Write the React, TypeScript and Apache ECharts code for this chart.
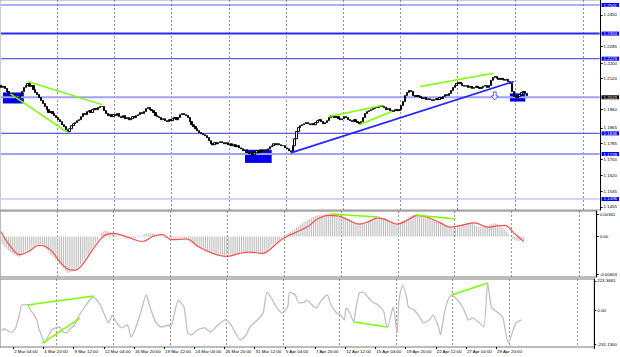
import React, { useEffect, useRef } from "react";
import * as echarts from "echarts";

const TOTAL_BARS = 315;
const firstOpen = 1.2085;

const closes = [
  1.2074,1.2080,1.2069,1.2053,1.2043,1.2032,1.2037,1.2027,1.2016,1.2022,
  1.2032,1.2053,1.2074,1.2084,1.2095,1.2080,1.2084,1.2063,1.2048,1.2037,
  1.2022,1.2006,1.1991,1.1975,1.1959,1.1944,1.1949,1.1939,1.1928,1.1918,
  1.1907,1.1897,1.1881,1.1871,1.1855,1.1845,1.1860,1.1876,1.1886,1.1892,
  1.1902,1.1907,1.1923,1.1939,1.1933,1.1949,1.1954,1.1944,1.1959,1.1965,
  1.1959,1.1970,1.1975,1.1975,1.1954,1.1939,1.1928,1.1933,1.1923,1.1933,
  1.1928,1.1939,1.1923,1.1918,1.1928,1.1912,1.1918,1.1907,1.1912,1.1923,
  1.1918,1.1928,1.1933,1.1944,1.1939,1.1949,1.1965,1.1970,1.1959,1.1954,
  1.1944,1.1928,1.1923,1.1918,1.1907,1.1912,1.1902,1.1897,1.1907,1.1902,
  1.1912,1.1918,1.1907,1.1918,1.1933,1.1939,1.1933,1.1928,1.1918,1.1897,
  1.1881,1.1871,1.1860,1.1850,1.1840,1.1834,1.1829,1.1824,1.1814,1.1798,
  1.1782,1.1777,1.1788,1.1782,1.1788,1.1793,1.1788,1.1782,1.1788,1.1777,
  1.1782,1.1772,1.1777,1.1767,1.1772,1.1761,1.1756,1.1746,1.1751,1.1735,
  1.1730,1.1741,1.1725,1.1735,1.1746,1.1735,1.1751,1.1741,1.1751,1.1746,
  1.1756,1.1767,1.1772,1.1782,1.1777,1.1782,1.1777,1.1772,1.1772,1.1761,
  1.1756,1.1746,1.1741,1.1772,1.1808,1.1845,1.1866,1.1876,1.1881,1.1886,
  1.1892,1.1886,1.1881,1.1886,1.1881,1.1892,1.1902,1.1907,1.1897,1.1886,
  1.1892,1.1902,1.1918,1.1928,1.1923,1.1918,1.1923,1.1912,1.1907,1.1912,
  1.1923,1.1918,1.1907,1.1902,1.1897,1.1907,1.1897,1.1892,1.1886,1.1897,
  1.1918,1.1939,1.1949,1.1954,1.1959,1.1965,1.1970,1.1970,1.1975,1.1980,
  1.1975,1.1970,1.1959,1.1965,1.1954,1.1949,1.1954,1.1959,1.1954,1.1959,
  1.1980,1.2001,1.2032,1.2048,1.2058,1.2053,1.2032,1.2027,1.2032,1.2027,
  1.2022,1.2016,1.2022,1.2011,1.2016,1.2011,1.2006,1.2011,1.2016,1.2011,
  1.2022,1.2016,1.2027,1.2037,1.2032,1.2043,1.2058,1.2074,1.2084,1.2095,
  1.2100,1.2095,1.2084,1.2080,1.2084,1.2074,1.2080,1.2069,1.2074,1.2080,
  1.2074,1.2069,1.2074,1.2080,1.2084,1.2074,1.2084,1.2111,1.2126,1.2131,
  1.2121,1.2116,1.2121,1.2116,1.2111,1.2116,1.2105,1.2095,1.2053,1.2027,
  1.2022,1.2027,1.2037,1.2048,1.2053,1.2043,1.2032
];

const macdMain = [
  -0.0010,-0.0013,-0.0017,-0.0020,-0.0023,-0.0025,-0.0027,-0.0029,-0.0031,-0.0032,
  -0.0032,-0.0029,-0.0026,-0.0023,-0.0021,-0.0020,-0.0018,-0.0016,-0.0014,-0.0013,
  -0.0013,-0.0013,-0.0015,-0.0017,-0.0021,-0.0024,-0.0028,-0.0031,-0.0034,-0.0038,
  -0.0041,-0.0044,-0.0048,-0.0051,-0.0055,-0.0058,-0.0058,-0.0057,-0.0056,-0.0055,
  -0.0053,-0.0049,-0.0045,-0.0040,-0.0036,-0.0032,-0.0029,-0.0026,-0.0021,-0.0016,
  -0.0011,-0.0006,0.0000,0.0006,0.0008,0.0010,0.0009,0.0008,0.0007,0.0005,
  0.0004,0.0002,0.0001,0.0000,-0.0001,-0.0003,-0.0004,-0.0004,-0.0004,-0.0004,
  -0.0003,-0.0003,-0.0002,-0.0001,0.0000,0.0002,0.0004,0.0005,0.0005,0.0005,
  0.0005,0.0004,0.0003,0.0001,0.0000,-0.0001,-0.0002,-0.0002,-0.0002,-0.0003,
  -0.0003,-0.0003,-0.0003,-0.0002,-0.0002,-0.0002,-0.0003,-0.0004,-0.0005,-0.0006,
  -0.0008,-0.0010,-0.0011,-0.0013,-0.0015,-0.0017,-0.0018,-0.0019,-0.0021,-0.0024,
  -0.0026,-0.0028,-0.0029,-0.0030,-0.0031,-0.0031,-0.0031,-0.0031,-0.0030,-0.0030,
  -0.0030,-0.0029,-0.0029,-0.0028,-0.0027,-0.0027,-0.0026,-0.0026,-0.0025,-0.0025,
  -0.0025,-0.0024,-0.0025,-0.0025,-0.0026,-0.0026,-0.0027,-0.0027,-0.0026,-0.0025,
  -0.0024,-0.0021,-0.0018,-0.0014,-0.0012,-0.0010,-0.0008,-0.0006,-0.0003,0.0000,
  0.0002,0.0004,0.0006,0.0008,0.0010,0.0012,0.0015,0.0017,0.0019,0.0021,
  0.0023,0.0025,0.0027,0.0028,0.0030,0.0031,0.0033,0.0034,0.0034,0.0035,
  0.0035,0.0036,0.0036,0.0036,0.0036,0.0036,0.0035,0.0035,0.0035,0.0034,
  0.0033,0.0032,0.0031,0.0029,0.0028,0.0026,0.0025,0.0023,0.0022,0.0021,
  0.0021,0.0020,0.0021,0.0022,0.0024,0.0026,0.0027,0.0028,0.0029,0.0030,
  0.0030,0.0029,0.0028,0.0027,0.0025,0.0024,0.0022,0.0021,0.0019,0.0018,
  0.0019,0.0021,0.0024,0.0026,0.0029,0.0031,0.0033,0.0034,0.0035,0.0035,
  0.0035,0.0034,0.0033,0.0031,0.0030,0.0029,0.0028,0.0027,0.0026,0.0025,
  0.0024,0.0023,0.0022,0.0021,0.0020,0.0019,0.0017,0.0015,0.0014,0.0013,
  0.0014,0.0016,0.0017,0.0019,0.0020,0.0020,0.0021,0.0021,0.0021,0.0020,
  0.0019,0.0017,0.0016,0.0016,0.0015,0.0015,0.0015,0.0017,0.0019,0.0020,
  0.0021,0.0021,0.0020,0.0019,0.0017,0.0014,0.0011,0.0008,0.0004,0.0000,
  -0.0003,-0.0005,-0.0006,-0.0007,-0.0007,-0.0006,-0.0005
];

// [bar index, value]
const macdSignal = [
  [0,0.0008],[5,-0.0016],[10,-0.0029],[15,-0.0023],[20,-0.0014],[26,-0.0021],[31,-0.0040],
  [36,-0.0053],[39,-0.0054],[43,-0.0045],[48,-0.0023],[54,0.0000],[59,0.0005],[66,0.0000],
  [75,-0.0008],[80,0.0000],[85,0.0003],[90,-0.0005],[98,-0.0004],[104,-0.0016],[111,-0.0026],
  [119,-0.0032],[126,-0.0027],[131,-0.0025],[138,-0.0027],[143,-0.0018],[148,-0.0005],
  [153,0.0003],[162,0.0016],[167,0.0028],[173,0.0034],[178,0.0033],[183,0.0027],[189,0.0020],
  [194,0.0024],[199,0.0030],[204,0.0026],[209,0.0020],[215,0.0027],[220,0.0034],[225,0.0031],
  [232,0.0022],[237,0.0015],[243,0.0018],[250,0.0022],[257,0.0015],[262,0.0017],[266,0.0018],
  [271,0.0005],[276,-0.0008]
];

const cci = [
  [0,-146],[2,-138],[5,-161],[6,-161],[8,-123],[10,-18],[11,43],[14,43],[16,-3],[17,-18],
  [19,-70],[20,-130],[22,-206],[23,-244],[24,-221],[26,-168],[27,-146],[29,-130],[31,-123],
  [33,-161],[35,-168],[36,-146],[39,-108],[41,-48],[44,20],[47,80],[49,103],[52,58],[55,-33],
  [57,-93],[59,-33],[61,-85],[64,-130],[67,-108],[69,-198],[71,-146],[74,-18],[77,118],[79,28],
  [82,-85],[85,-123],[89,-108],[90,-123],[94,80],[97,28],[99,-168],[101,-183],[104,-146],
  [108,-130],[111,-161],[115,-108],[119,-70],[122,-108],[124,-161],[127,-221],[130,-183],
  [132,-123],[136,-70],[139,-18],[141,140],[144,80],[146,28],[149,-18],[152,28],[153,140],
  [156,118],[158,58],[161,65],[162,80],[165,43],[167,20],[170,80],[173,118],[175,43],[178,-18],
  [180,-33],[182,-70],[183,20],[185,-18],[187,-85],[188,5],[190,133],[192,140],[195,95],
  [197,65],[200,43],[203,-10],[204,-93],[205,-123],[207,-18],[208,28],[210,-168],[211,80],
  [213,193],[215,103],[216,28],[219,5],[222,-48],[224,-93],[227,-70],[229,-33],[232,-123],
  [233,-183],[235,-18],[237,80],[239,118],[242,80],[245,20],[248,-70],[250,-55],[253,-85],
  [256,-123],[258,208],[260,28],[263,-10],[266,-48],[267,-123],[269,-244],[271,-168],
  [273,-93],[276,-70]
];

const priceTicks = [1.245, 1.2285, 1.22, 1.212, 1.196, 1.1865, 1.1785, 1.17, 1.162, 1.1535, 1.1455];
const blueLevels = [1.2501, 1.2353, 1.2223, 1.1836];
const fibLevels = [1.2353, 1.2023, 1.1729, 1.1496];
const fibNames = ["200.0", "161.8", "127.2", "100.0"];
const bidPrice = 1.2023;
const macdTicks = [0.00361, 0, -0.00603];
const macdTickLabels = ["0.00361", "0.00", "-0.00603"];
const cciTicks = [223.3661, 0, -251.13];
const cciTickLabels = ["223.3661", "0.00", "-251.1300"];

const xLabels = [
  "2 Mar 04:00","4 Mar 20:00","9 Mar 12:00","12 Mar 04:00","16 Mar 20:00","19 Mar 12:00",
  "24 Mar 04:00","26 Mar 20:00","31 Mar 12:00","5 Apr 04:00","7 Apr 20:00","12 Apr 12:00",
  "15 Apr 04:00","19 Apr 20:00","22 Apr 12:00","27 Apr 04:00","29 Apr 20:00"
];
const separators = [
  "8 Mar 00:00","15 Mar 00:00","22 Mar 00:00","29 Mar 00:00","5 Apr 00:00","12 Apr 00:00",
  "19 Apr 00:00","26 Apr 00:00","3 May 00:00","11 May 00:00"
];

// price annotations: [[startIdx, startPrice], [endIdx, endPrice]]
const greenPriceLines = [
  [[14, 1.2105], [53, 1.1985]],
  [[5, 1.2041], [35, 1.1840]],
  [[172, 1.1923], [200, 1.1980]],
  [[188, 1.1881], [205, 1.1949]],
  [[220, 1.2079], [258, 1.2147]]
];
const blueTrend = [[152, 1.1735], [269, 1.2105]];
const boxes = [
  [[1, 1.2048], [12, 1.1991]],
  [[128, 1.1751], [142, 1.1683]],
  [[267, 1.2043], [275, 1.2001]]
];
const arrowAt = [259, 1.2030];
const greenMacdLines = [
  [[174, 0.00361], [199, 0.00313]],
  [[219, 0.00345], [240, 0.00282]]
];
const greenCciLines = [
  [[14, 43], [49, 110]],
  [[22, -244], [42, -55]],
  [[187, -85], [205, -123]],
  [[239, 118], [258, 208]]
];

const MONTHS = ["Jan","Feb","Mar","Apr","May","Jun","Jul","Aug","Sep","Oct","Nov","Dec"];
function buildCategories(n: number): string[] {
  const out: string[] = [];
  const start = Date.UTC(2021, 2, 1);
  let d = 0;
  while (out.length < n) {
    const date = new Date(start + d * 86400000);
    const wd = date.getUTCDay();
    if (wd !== 0 && wd !== 6) {
      for (let h = 0; h < 24; h += 4) {
        out.push(`${date.getUTCDate()} ${MONTHS[date.getUTCMonth()]} ${String(h).padStart(2, "0")}:00`);
      }
    }
    d++;
  }
  return out.slice(0, n);
}

const FONT = "Liberation Sans";
const FS = 4.4;

export default function App() {
  const ref = useRef<HTMLDivElement>(null);
  useEffect(() => {
    document.body.style.margin = "0";
    const chart = echarts.init(ref.current!, null, { renderer: "svg" });
    const cats = buildCategories(TOTAL_BARS);
    const candles = closes.map((c, i) => {
      const o = i === 0 ? firstOpen : closes[i - 1];
      return [o, c, Math.min(o, c), Math.max(o, c)];
    });
    const sepFn = (_i: number, v: string) => separators.includes(v);
    const labFn = (_i: number, v: string) => xLabels.includes(v);
    const xBase = (gridIndex: number, showLabels: boolean) => ({
      type: "category",
      gridIndex,
      data: cats,
      boundaryGap: true,
      axisLine: { show: false, onZero: false },
      axisTick: showLabels
        ? { show: true, interval: labFn, length: 2, lineStyle: { color: "#000" } }
        : { show: false },
      axisLabel: showLabels
        ? { show: true, interval: labFn, align: "left", fontSize: FS, fontFamily: FONT, color: "#000", margin: 2 }
        : { show: false },
      splitLine: { show: true, interval: sepFn, lineStyle: { color: "#777", width: 0.8, type: [2, 2] } },
    });
    const yLabel = { fontSize: FS, fontFamily: FONT, color: "#000", margin: 3 };

    const levelStyle: Record<string, [string, number, string]> = {
      "1.2501": ["#5c5cff", 1.2, "#0000ff"],
      "1.2353": ["#2a2aff", 2, "#0000ff"],
      "1.2223": ["#5c5cff", 1.2, "#0000ff"],
      "1.1836": ["#5c5cff", 1.2, "#0000ff"],
      "1.2023": ["#a0a0ff", 2, "#000000"],
      "1.1729": ["#a0a0ff", 2, "#0000ff"],
      "1.1496": ["#a8a8ff", 1, "#0000ff"],
    };
    const levelValues = [...blueLevels, bidPrice, 1.1729, 1.1496];
    const levelSeries = levelValues.map((v) => {
      const s = levelStyle[v.toFixed(4)];
      return {
        type: "line",
        xAxisIndex: 0,
        yAxisIndex: 0,
        data: [[0, v], [TOTAL_BARS - 1, v]],
        symbol: "none",
        silent: true,
        z: 3,
        lineStyle: { color: s[0], width: s[1] },
        endLabel: {
          show: true,
          formatter: v.toFixed(4),
          distance: 2,
          backgroundColor: s[2],
          color: "#ffffff",
          fontSize: FS,
          fontFamily: FONT,
          padding: [0, 2, 0, 2],
        },
      };
    });

    const fibMarks = fibLevels.map((v, k) => ({
      yAxis: v,
      lineStyle: { opacity: 0 },
      label: {
        show: true,
        position: "insideEndTop",
        distance: 1,
        formatter: fibNames[k],
        color: "#7f7fff",
        fontSize: FS,
        fontFamily: FONT,
      },
    }));

    const seg = (pts: any, color: string, xi: number, yi: number, width = 1.5) => ({
      type: "line",
      xAxisIndex: xi,
      yAxisIndex: yi,
      data: pts,
      symbol: "none",
      silent: true,
      lineStyle: { color, width },
      z: 5,
    });

    const series: any[] = [
      ...levelSeries,
      {
        type: "candlestick",
        xAxisIndex: 0,
        yAxisIndex: 0,
        data: candles,
        barWidth: 1.8,
        itemStyle: { color: "#ffffff", color0: "#000000", borderColor: "#000000", borderColor0: "#000000", borderWidth: 1 },
        z: 4,
        markLine: { symbol: "none", silent: true, precision: 4, data: fibMarks },
        markArea: {
          silent: true,
          itemStyle: { color: "#0000ee" },
          data: boxes.map((b) => [{ coord: b[0] }, { coord: b[1] }]),
        },
        markPoint: {
          silent: true,
          data: [
            {
              coord: arrowAt,
              symbol: "path://M3,0L7,0L7,5L10,5L5,10L0,5L3,5Z",
              symbolSize: [7, 8],
              itemStyle: { color: "#ffffff", borderColor: "#3535ff", borderWidth: 0.8 },
              label: { show: false },
            },
          ],
        },
      },
      ...greenPriceLines.map((p) => seg(p, "#7cfc00", 0, 0)),
      seg(blueTrend, "#2424ff", 0, 0, 1.6),
      {
        type: "bar",
        xAxisIndex: 1,
        yAxisIndex: 1,
        data: macdMain,
        barWidth: 1,
        itemStyle: { color: "#bdbdbd" },
        silent: true,
      },
      {
        type: "line",
        xAxisIndex: 1,
        yAxisIndex: 1,
        data: macdSignal,
        symbol: "none",
        smooth: 0.4,
        silent: true,
        lineStyle: { color: "#ff4a4a", width: 1.2 },
        z: 4,
      },
      ...greenMacdLines.map((p) => seg(p, "#7cfc00", 1, 1)),
      {
        type: "line",
        xAxisIndex: 2,
        yAxisIndex: 2,
        data: cci,
        symbol: "none",
        smooth: 0.2,
        silent: true,
        lineStyle: { color: "#c0c0c0", width: 1.3 },
      },
      ...greenCciLines.map((p) => seg(p, "#7cfc00", 2, 2)),
    ];

    chart.setOption({
      animation: false,
      backgroundColor: "#ffffff",
      textStyle: { fontFamily: FONT },
      grid: [
        { left: 0, top: 0, width: 601, height: 210, show: true, borderColor: "#9a9a9a", borderWidth: 1 },
        { left: 0, top: 211, width: 601, height: 66, show: true, borderColor: "#7a7a7a", borderWidth: 1 },
        { left: 0, top: 279, width: 601, height: 68, show: true, borderColor: "#7a7a7a", borderWidth: 1 },
      ],
      xAxis: [xBase(0, false), xBase(1, false), xBase(2, true)],
      yAxis: [
        {
          type: "value",
          gridIndex: 0,
          position: "right",
          min: 1.1439,
          max: 1.2527,
          axisLine: { show: true, lineStyle: { color: "#000" } },
          axisTick: { show: true, customValues: priceTicks, length: 2, lineStyle: { color: "#000" } },
          axisLabel: { ...yLabel, customValues: priceTicks, formatter: (v: number) => v.toFixed(4) },
          splitLine: { show: false },
        },
        {
          type: "value",
          gridIndex: 1,
          position: "right",
          min: -0.0065,
          max: 0.0041,
          axisLine: { show: true, lineStyle: { color: "#000" } },
          axisTick: { show: true, customValues: macdTicks, length: 2, lineStyle: { color: "#000" } },
          axisLabel: {
            ...yLabel,
            customValues: macdTicks,
            formatter: (v: number) => {
              const k = macdTicks.findIndex((t) => Math.abs(t - v) < 1e-7);
              return k >= 0 ? macdTickLabels[k] : "";
            },
          },
          splitLine: { show: false },
        },
        {
          type: "value",
          gridIndex: 2,
          position: "right",
          min: -273.7,
          max: 238.4,
          axisLine: { show: true, lineStyle: { color: "#000" } },
          axisTick: { show: true, customValues: cciTicks, length: 2, lineStyle: { color: "#000" } },
          axisLabel: {
            ...yLabel,
            customValues: cciTicks,
            formatter: (v: number) => {
              const k = cciTicks.findIndex((t) => Math.abs(t - v) < 1e-3);
              return k >= 0 ? cciTickLabels[k] : "";
            },
          },
          splitLine: { show: false },
        },
      ],
      series,
    });
    return () => chart.dispose();
  }, []);
  return <div ref={ref} style={{ width: 620, height: 357 }} />;
}
